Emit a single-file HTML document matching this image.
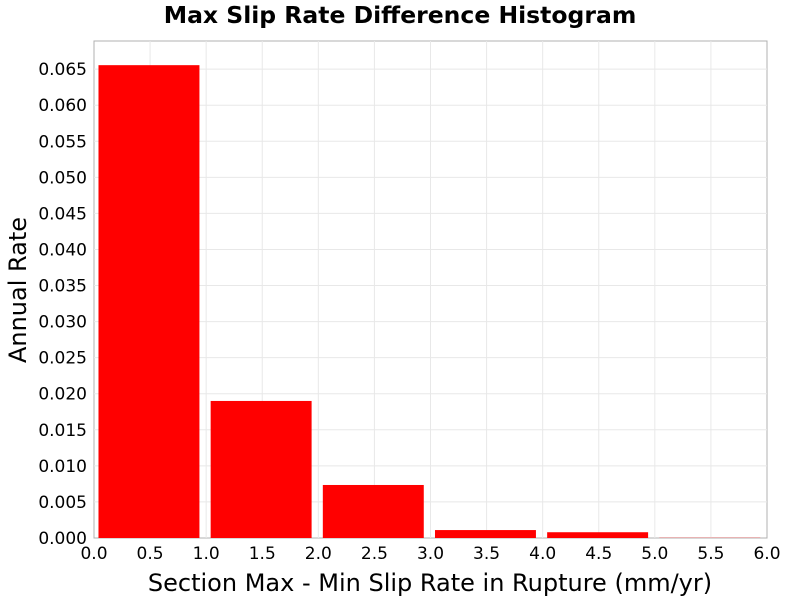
<!DOCTYPE html>
<html><head><meta charset="utf-8"><style>
body{margin:0;background:#fff;}
svg text{font-family:"DejaVu Sans","Liberation Sans",sans-serif;}
</style></head><body>
<svg id="chart" width="800" height="600">
<text x="400" y="23" text-anchor="middle" font-size="23.5" font-weight="bold">Max Slip Rate Difference Histogram</text>
<rect x="94" y="41" width="673" height="497" fill="#fff" stroke="#b0b0b0"/>
<g id="grid"></g><g id="bars"></g><g id="xticks"></g><g id="yticks"></g>
<text x="430" y="591" text-anchor="middle" font-size="24">Section Max - Min Slip Rate in Rupture (mm/yr)</text>
<text transform="translate(26,290) rotate(-90)" text-anchor="middle" font-size="24">Annual Rate</text>
</svg>
<script>
const binStarts=[0,1,2,3,4,5];
const rates=[0.06555,0.0190,0.00735,0.0011,0.0008,0.00003];
const xTicks=["0.0","0.5","1.0","1.5","2.0","2.5","3.0","3.5","4.0","4.5","5.0","5.5","6.0"];
const yTicks=["0.000","0.005","0.010","0.015","0.020","0.025","0.030","0.035","0.040","0.045","0.050","0.055","0.060","0.065"];
const NS="http://www.w3.org/2000/svg";
const X0=94,X1=767,Y0=538,Y1=41,XMAX=6,YMAX=0.0689;
const sx=v=>X0+(v/XMAX)*(X1-X0);
const sy=v=>Y0-(v/YMAX)*(Y0-Y1);
function mk(t,a,p){const e=document.createElementNS(NS,t);for(const k in a)e.setAttribute(k,a[k]);p.appendChild(e);return e;}
const g=document.getElementById('grid'),b=document.getElementById('bars'),xt=document.getElementById('xticks'),yt=document.getElementById('yticks');
xTicks.forEach(s=>{const v=parseFloat(s),x=sx(v);
 if(v>0&&v<XMAX){const l=mk('line',{x1:x,x2:x,y1:Y1,y2:Y0,stroke:'#e8e8e8'},g);}
 const t=mk('text',{x:x,y:559,'text-anchor':'middle','font-size':17},xt);t.textContent=s;
 
 });
yTicks.forEach(s=>{const v=parseFloat(s),y=sy(v);
 if(v>0){const l=mk('line',{x1:X0,x2:X1,y1:y,y2:y,stroke:'#e8e8e8'},g);}
 const t=mk('text',{x:87,y:y+6,'text-anchor':'end','font-size':17},yt);t.textContent=s;
 
 });
binStarts.forEach((s,i)=>{const x=sx(s+0.04),w=sx(s+0.94)-x,y=sy(rates[i]);
 const r=mk('rect',{x:x,y:y,width:w,height:Y0-y,fill:'#ff0000'},b);
 
 });
</script>
</body></html>
